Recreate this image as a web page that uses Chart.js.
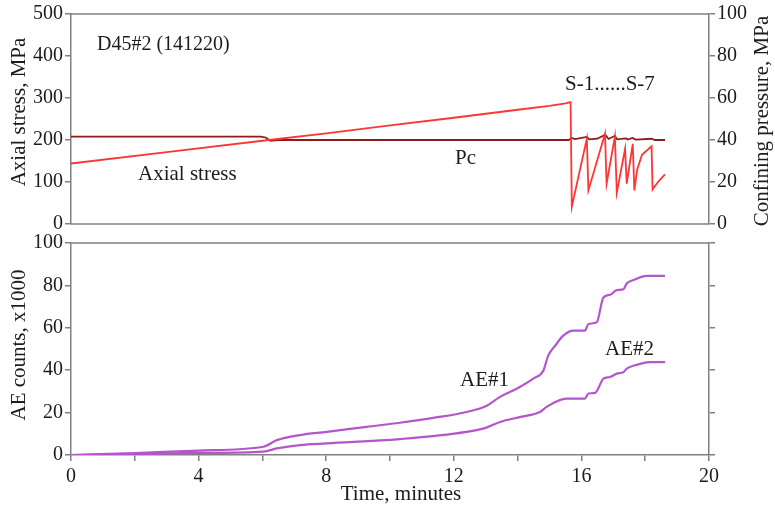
<!DOCTYPE html>
<html>
<head>
<meta charset="utf-8">
<script src="https://cdn.jsdelivr.net/npm/chart.js@4"></script>
<style>
  html, body { margin: 0; padding: 0; background: #fff; }
  #wrap { position: relative; width: 775px; height: 508px; overflow: hidden; }
  canvas { position: absolute; left: 0; }
</style>
</head>
<body>
<div id="wrap">
  <canvas id="stressChart" width="775" height="240" style="top:0"></canvas>
  <canvas id="aeChart" width="775" height="280" style="top:228px"></canvas>
</div>
<script>
// ---- Axial stress (MPa) vs time (minutes)
const stressTime   = [0, 3, 6.2, 8, 10, 12, 14, 15, 15.5, 15.66, 15.70, 16.17, 16.22, 16.74, 16.79, 17.05, 17.11, 17.37, 17.42, 17.61, 17.66, 17.75, 17.9, 18.2, 18.23, 18.4, 18.62];
const stressValues = [144, 171, 200, 216, 235, 253, 272, 281, 287, 290, 41, 203, 80, 215, 96, 208, 74, 179, 96, 191, 80, 130, 165, 185, 82, 100, 118];

// ---- Confining pressure Pc (MPa)
const pcTime   = [0, 5.95, 6.1, 6.25, 6.5, 15.6, 15.7, 15.8, 16.17, 16.25, 16.5, 16.75, 16.85, 17.05, 17.12, 17.4, 17.45, 17.6, 17.7, 18.2, 18.3, 18.62];
const pcValues = [41.6, 41.6, 41.2, 39.6, 40, 40, 41, 40.4, 41.5, 40.3, 40.6, 42.5, 40.5, 42, 40.3, 40.8, 40.2, 41, 40.2, 40.6, 40, 40];

// ---- Acoustic emission counts (x1000)
const ae1Time   = [0, 2, 4, 6.03, 6.45, 7.18, 8.02, 9.27, 10.31, 11.4, 12.4, 13, 13.45, 14, 14.49, 14.81, 14.96, 15.2, 15.43, 15.75, 16.11, 16.22, 16.48, 16.69, 16.9, 17.11, 17.32, 17.42, 17.63, 18.05, 18.62];
const ae1Values = [0, 0.9, 2.1, 3.9, 7, 9.4, 10.9, 13.3, 15.2, 17.6, 20.3, 23, 27.4, 31.5, 36, 39.9, 46.9, 52, 56.3, 58.7, 58.7, 61.8, 62.6, 74.3, 75.6, 77.8, 78.2, 80.9, 82.5, 84.5, 84.5];
const ae2Time   = [0, 2, 4, 6.03, 6.45, 7.18, 8.02, 10.31, 12.4, 13, 13.45, 14.1, 14.7, 14.91, 15.53, 16.11, 16.22, 16.43, 16.69, 16.9, 17.11, 17.32, 17.42, 17.68, 18.15, 18.62];
const ae2Values = [0, 0.4, 1, 1.6, 3.1, 4.7, 5.5, 7.5, 10.9, 12.8, 15.6, 18, 20.3, 22.7, 26.6, 26.6, 29, 29.3, 36, 36.8, 38.4, 39.1, 40.7, 42.3, 43.8, 43.8];

// ---- Tick label steps
const timeTickStep = 2,  timeLabelStep = 4;
const stressTickStep = 50, stressLabelStep = 100;
const pcTickStep = 10, pcLabelStep = 20;
const aeTickStep = 10, aeLabelStep = 20;

const FONT = '"Liberation Serif", "Times New Roman", serif';
const TEXT = '#1c1c1c';
const AXIS = '#808080';

function pairs(xs, ys) { return xs.map((x, i) => ({ x, y: ys[i] })); }
function everyN(step) { return v => (Math.abs(v % step) < 1e-9 ? String(v) : ''); }

function axisStyle(extra) {
  return Object.assign({
    grid: { drawOnChartArea: false, tickLength: 6, color: AXIS, lineWidth: 1.5 },
    border: { color: AXIS, width: 1.5 }
  }, extra);
}

function drawText(ctx, str, x, y, opts) {
  opts = opts || {};
  ctx.save();
  ctx.font = (opts.size || 21) + 'px ' + FONT;
  ctx.fillStyle = TEXT;
  ctx.textAlign = opts.align || 'left';
  ctx.textBaseline = 'alphabetic';
  ctx.translate(x, y);
  if (opts.rotate) ctx.rotate(opts.rotate);
  ctx.fillText(str, 0, 0);
  ctx.restore();
}

// Horizontal frame lines across the plotting area
const frameLines = {
  id: 'frameLines',
  afterDraw(chart, args, opts) {
    const { ctx, chartArea: a } = chart;
    ctx.save();
    ctx.strokeStyle = AXIS;
    ctx.lineWidth = 1.5;
    (opts.edges || []).forEach(edge => {
      const y = a[edge];
      ctx.beginPath();
      ctx.moveTo(a.left, y);
      ctx.lineTo(a.right, y);
      ctx.stroke();
    });
    ctx.restore();
  }
};

// Free text: axis titles and in-plot annotations
const labels = {
  id: 'labels',
  afterDraw(chart, args, opts) {
    (opts.items || []).forEach(it => drawText(chart.ctx, it.text, it.x, it.y, it));
  }
};

const common = {
  responsive: false,
  animation: false,
  events: [],
  plugins: { legend: { display: false }, tooltip: { enabled: false } }
};
const tickFont = { family: FONT, size: 20 };

// ---------------- Upper panel: stress and confining pressure
new Chart(document.getElementById('stressChart'), {
  type: 'line',
  data: {
    datasets: [
      { label: 'Axial stress', data: pairs(stressTime, stressValues), yAxisID: 'yStress',
        borderColor: '#ff3535', borderWidth: 1.8, pointRadius: 0, tension: 0 },
      { label: 'Pc', data: pairs(pcTime, pcValues), yAxisID: 'yPc',
        borderColor: '#8a1c1c', borderWidth: 1.8, pointRadius: 0, tension: 0 }
    ]
  },
  options: Object.assign({}, common, {
    layout: { padding: { top: 13, bottom: 16, left: 0, right: 0 } },
    plugins: Object.assign({}, common.plugins, {
      frameLines: { edges: ['top', 'bottom'] },
      labels: { items: [
        { text: 'D45#2 (141220)', x: 97, y: 50, size: 20 },
        { text: 'Axial stress', x: 138, y: 180 },
        { text: 'Pc', x: 455, y: 164 },
        { text: 'S-1......S-7', x: 565, y: 90 },
        { text: 'Axial stress, MPa', x: 25, y: 112, align: 'center', rotate: -Math.PI / 2 },
        { text: 'Confining pressure, MPa', x: 768, y: 121, align: 'center', rotate: -Math.PI / 2 }
      ] }
    }),
    scales: {
      x: { type: 'linear', min: 0, max: 20, display: false },
      yStress: axisStyle({
        position: 'left', min: 0, max: 500,
        afterFit(s) { s.width = 71; },
        ticks: { stepSize: stressTickStep, callback: everyN(stressLabelStep), font: tickFont, color: TEXT, padding: 2 }
      }),
      yPc: axisStyle({
        position: 'right', min: 0, max: 100,
        afterFit(s) { s.width = 66; },
        ticks: { stepSize: pcTickStep, callback: everyN(pcLabelStep), font: tickFont, color: TEXT, padding: 2 }
      })
    }
  }),
  plugins: [frameLines, labels]
});

// ---------------- Lower panel: cumulative AE counts
new Chart(document.getElementById('aeChart'), {
  type: 'line',
  data: {
    datasets: [
      { label: 'AE#1', data: pairs(ae1Time, ae1Values), yAxisID: 'yAE',
        borderColor: '#b455cc', borderWidth: 2.2, pointRadius: 0, cubicInterpolationMode: 'monotone' },
      { label: 'AE#2', data: pairs(ae2Time, ae2Values), yAxisID: 'yAE',
        borderColor: '#b455cc', borderWidth: 2.2, pointRadius: 0, cubicInterpolationMode: 'monotone' }
    ]
  },
  options: Object.assign({}, common, {
    layout: { padding: { top: 14, bottom: 0, left: 0, right: 0 } },
    plugins: Object.assign({}, common.plugins, {
      frameLines: { edges: ['top'] },
      labels: { items: [
        { text: 'AE#1', x: 460, y: 386 - 228 },
        { text: 'AE#2', x: 605, y: 355 - 228 },
        { text: 'Time, minutes', x: 401, y: 500 - 228, align: 'center' },
        { text: 'AE counts, x1000', x: 25, y: 345 - 228, align: 'center', rotate: -Math.PI / 2 }
      ] }
    }),
    scales: {
      x: axisStyle({
        type: 'linear', position: 'bottom', min: 0, max: 20,
        afterFit(s) { s.height = 53; },
        ticks: { stepSize: timeTickStep, callback: everyN(timeLabelStep), font: tickFont, color: TEXT, padding: 4, maxRotation: 0, autoSkip: false }
      }),
      yAE: axisStyle({
        position: 'left', min: 0, max: 100,
        afterFit(s) { s.width = 71; },
        ticks: { stepSize: aeTickStep, callback: everyN(aeLabelStep), font: tickFont, color: TEXT, padding: 2 }
      }),
      yAERight: axisStyle({
        position: 'right', min: 0, max: 100,
        afterFit(s) { s.width = 66; },
        ticks: { stepSize: aeTickStep, callback: () => '', font: tickFont }
      })
    }
  }),
  plugins: [frameLines, labels]
});
</script>
</body>
</html>
